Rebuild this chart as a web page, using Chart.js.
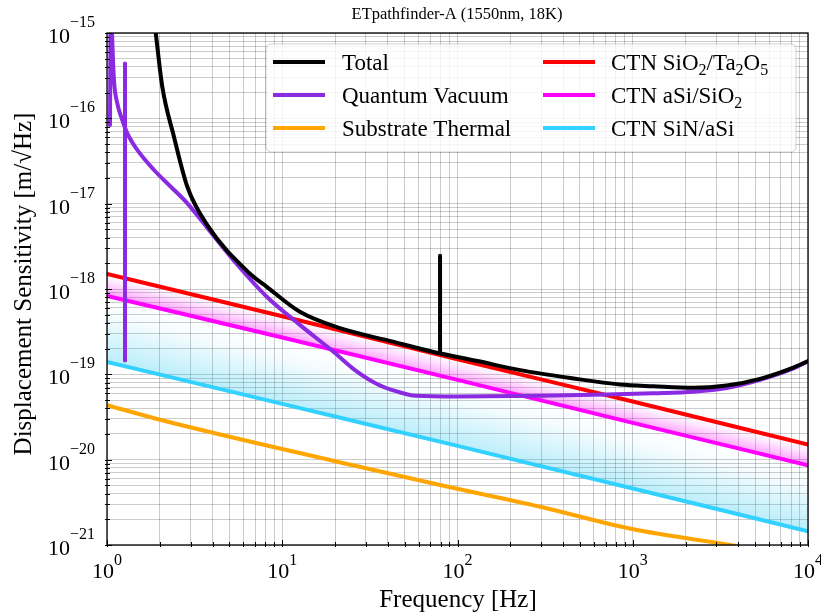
<!DOCTYPE html>
<html>
<head>
<meta charset="utf-8">
<script src="https://cdn.jsdelivr.net/npm/chart.js@4.4.1/dist/chart.umd.min.js"></script>
<style>
  body { margin: 0; background: #fff; }
  #wrap { width: 821px; height: 613px; }
</style>
</head>
<body>
<div id="wrap"><canvas id="myChart" width="821" height="613"></canvas></div>
<script>
const SERIF = "'Liberation Serif', 'Times New Roman', serif";

// Quantum vacuum (violin mode near 1 Hz)
const freqQV = [1.04, 1.052, 1.068, 1.096, 1.145, 1.223, 1.306, 1.489, 1.855, 2.311, 2.873, 3.735, 5.5, 8.16, 12.6, 19.6, 26, 34.7, 45, 58, 100, 300, 710, 1306, 2217, 3436, 5321, 8245, 10000];
const quantumVacuum = [8.35e-17, 3e-15, 1.0e-15, 2.81e-16, 1.5e-16, 9.55e-17, 6.68e-17, 4.26e-17, 2.48e-17, 1.58e-17, 1.01e-17, 5.2e-18, 1.96e-18, 8.1e-19, 3.8e-19, 1.84e-19, 1.12e-19, 7.7e-20, 6.3e-20, 5.6e-20, 5.5e-20, 5.6e-20, 5.8e-20, 6.0e-20, 6.25e-20, 6.9e-20, 8.6e-20, 1.17e-19, 1.42e-19];
// narrow resonance line at 1.267 Hz
const freqQVLine = [1.267, 1.267];
const qvLine = [1.45e-19, 4.4e-16];

// Total
const freqTotal = [1.897, 2.067, 2.41, 2.873, 3.735, 6.5, 8.16, 12.6, 21.3, 40, 72, 130, 228, 450, 846, 1306, 2217, 3436, 5321, 8245, 10000];
const total = [1e-15, 2.35e-16, 6.1e-17, 1.58e-17, 5.6e-18, 1.53e-18, 1.06e-18, 5.4e-19, 3.47e-19, 2.5e-19, 1.84e-19, 1.43e-19, 1.12e-19, 9.0e-20, 7.6e-20, 7.25e-20, 6.95e-20, 7.4e-20, 8.85e-20, 1.2e-19, 1.43e-19];
// line at 79.5 Hz
const freqTotalLine = [79.5, 79.5];
const totalLine = [1.78e-19, 2.45e-18];

// Substrate thermal
const freqSub = [1, 1.93, 20, 79.5, 296, 1007, 3590, 5000];
const substrate = [4.36e-20, 3.0e-20, 9.6e-21, 5.05e-21, 2.81e-21, 1.53e-21, 1.0e-21, 8.8e-22];

// coating thermal noise
const freqCoat = [1, 10, 100, 1000, 10000];
const ctnSiO2Ta2O5 = [1.5e-18, 4.8e-19, 1.5e-19, 4.8e-20, 1.5e-20];
const ctnASiSiO2 = [8.3e-19, 2.7e-19, 8.6e-20, 2.7e-20, 8.6e-21];
const ctnSiNASi = [1.4e-19, 4.5e-20, 1.45e-20, 4.6e-21, 1.45e-21];

const labels = ['Total', 'Quantum Vacuum', 'Substrate Thermal', 'CTN SiO_2/Ta_2O_5', 'CTN aSi/SiO_2', 'CTN SiN/aSi'];
const colors = ['#000000', '#8a2be2', '#ffa500', '#ff0000', '#ff00ff', '#33d1ff'];

const xTickExps = [0, 1, 2, 3, 4];
const yTickExps = [-21, -20, -19, -18, -17, -16, -15];

const pts = (xs, ys) => xs.map((x, i) => ({x: x, y: ys[i]}));

// 1..9 x 10^n ticks for the grid
function decadeTicks(exps) {
  const out = [];
  for (let i = 0; i < exps.length; i++) {
    const b = Math.pow(10, exps[i]);
    out.push({value: b, major: true});
    if (i < exps.length - 1) for (let k = 2; k <= 9; k++) out.push({value: k * b, major: false});
  }
  return out;
}

// gradient across the band between two straight lines
function bandGradient(chart, upper, lower, stops) {
  const {ctx, chartArea, scales} = chart;
  if (!chartArea) return 'rgba(0,0,0,0)';
  const x0 = chartArea.left, x1 = chartArea.right;
  const yU0 = scales.y.getPixelForValue(upper[0]);
  const yU1 = scales.y.getPixelForValue(upper[upper.length - 1]);
  const yL0 = scales.y.getPixelForValue(lower[0]);
  const s = (yU1 - yU0) / (x1 - x0);
  const len = Math.hypot(1, s);
  const d = (yL0 - yU0) / len;
  const g = ctx.createLinearGradient(x0, yU0, x0 - s / len * d, yU0 + d / len);
  stops.forEach(([t, c]) => g.addColorStop(t, c));
  return g;
}

const pinkStops = [[0, 'rgba(255,0,255,0)'], [0.35, 'rgba(255,0,255,0.1)'], [1, 'rgba(255,0,255,0.38)']];
const blueStops = [[0, 'rgba(0,190,240,0)'], [0.3, 'rgba(0,190,240,0.04)'], [1, 'rgba(0,190,240,0.27)']];

// text with _d subscripts
function drawRich(ctx, str, x, y, size) {
  const parts = str.split(/_(\d)/);
  let cx = x;
  parts.forEach((p, i) => {
    if (!p) return;
    const sub = i % 2 === 1;
    ctx.font = (sub ? Math.round(size * 0.7) : size) + 'px ' + SERIF;
    ctx.fillText(p, cx, sub ? y + size * 0.22 : y);
    cx += ctx.measureText(p).width;
  });
}

function drawPow(ctx, exp, x, y, align, bigSize, smallSize, supDy) {
  const expStr = String(exp).replace('-', '\u2212');
  ctx.font = bigSize + 'px ' + SERIF;
  const w10 = ctx.measureText('10').width;
  ctx.font = smallSize + 'px ' + SERIF;
  const wE = ctx.measureText(expStr).width;
  let left = x;
  if (align === 'right') left = x - w10 - wE;
  if (align === 'center') left = x - (w10 + wE) / 2;
  ctx.textAlign = 'left';
  ctx.font = bigSize + 'px ' + SERIF;
  ctx.fillText('10', left, y);
  ctx.font = smallSize + 'px ' + SERIF;
  ctx.fillText(expStr, left + w10, y - supDy);
}

const decor = {
  id: 'decor',
  afterDraw(chart) {
    const {ctx, chartArea: a, scales} = chart;
    ctx.save();
    ctx.fillStyle = '#000';
    ctx.strokeStyle = '#000';
    ctx.textBaseline = 'alphabetic';

    // ticks on left and bottom
    ctx.lineWidth = 1;
    ctx.beginPath();
    scales.x.ticks.forEach(t => {
      const px = Math.round(scales.x.getPixelForValue(t.value)) + 0.5;
      const l = t.major ? 5 : 3;
      ctx.moveTo(px, a.bottom + 2); ctx.lineTo(px, a.bottom - l);
    });
    scales.y.ticks.forEach(t => {
      const py = Math.round(scales.y.getPixelForValue(t.value)) + 0.5;
      const l = t.major ? 5 : 3;
      ctx.moveTo(a.left - 2, py); ctx.lineTo(a.left + l, py);
    });
    ctx.stroke();

    // frame
    ctx.lineWidth = 1.3;
    ctx.strokeRect(a.left, a.top, a.right - a.left, a.bottom - a.top);

    // tick labels
    xTickExps.forEach(e => drawPow(ctx, e, scales.x.getPixelForValue(Math.pow(10, e)), 578, 'center', 22, 16, 13));
    yTickExps.forEach(e => drawPow(ctx, e, 95, scales.y.getPixelForValue(Math.pow(10, e)) + 10, 'right', 22, 16, 16));

    // titles
    ctx.textAlign = 'center';
    ctx.font = '16.5px ' + SERIF;
    ctx.fillText('ETpathfinder-A (1550nm, 18K)', 457, 19);
    ctx.font = '25px ' + SERIF;
    ctx.fillText('Frequency [Hz]', 458, 607);
    ctx.save();
    ctx.translate(31, 284);
    ctx.rotate(-Math.PI / 2);
    ctx.fillText('Displacement Sensitivity [m/\u221AHz]', 0, 0);
    ctx.restore();

    // legend
    const bx = 266, by = 44, bw = 530, bh = 108;
    ctx.beginPath();
    ctx.roundRect(bx, by, bw, bh, 5);
    ctx.fillStyle = 'rgba(255,255,255,0.8)';
    ctx.fill();
    ctx.strokeStyle = 'rgba(0,0,0,0.18)';
    ctx.lineWidth = 1;
    ctx.stroke();
    const cols = [[273, 325, 342], [543, 595, 611]];
    const rows = [62, 95, 128];
    labels.forEach((lab, i) => {
      const c = cols[Math.floor(i / 3)], ry = rows[i % 3];
      ctx.strokeStyle = colors[i];
      ctx.lineWidth = 4;
      ctx.lineCap = 'butt';
      ctx.beginPath();
      ctx.moveTo(c[0], ry); ctx.lineTo(c[1], ry);
      ctx.stroke();
      ctx.fillStyle = '#000';
      ctx.textAlign = 'left';
      drawRich(ctx, lab, c[2], ry + 7.5, 23);
    });
    ctx.restore();
  }
};

const lineStyle = {pointRadius: 0, borderWidth: 4, borderCapStyle: 'round', borderJoinStyle: 'round', cubicInterpolationMode: 'monotone', clip: 0, fill: false};
const spikeStyle = {pointRadius: 0, borderWidth: 4, borderCapStyle: 'round', tension: 0, clip: 0, fill: false};

const setup = () => {
  const ctxt = document.getElementById('myChart').getContext('2d');
  new Chart(ctxt, {
    type: 'line',
    data: {
      datasets: [
        {...lineStyle, label: labels[0], data: pts(freqTotal, total), borderColor: colors[0]},
        {...spikeStyle, label: labels[0] + ' line', data: pts(freqTotalLine, totalLine), borderColor: colors[0]},
        {...lineStyle, label: labels[1], data: pts(freqQV, quantumVacuum), borderColor: colors[1]},
        {...spikeStyle, label: labels[1] + ' line', data: pts(freqQVLine, qvLine), borderColor: colors[1]},
        {...lineStyle, label: labels[2], data: pts(freqSub, substrate), borderColor: colors[2]},
        {...lineStyle, label: labels[3], data: pts(freqCoat, ctnSiO2Ta2O5), borderColor: colors[3]},
        {...lineStyle, label: labels[4], data: pts(freqCoat, ctnASiSiO2), borderColor: colors[4],
          fill: {target: 5}, backgroundColor: (c) => bandGradient(c.chart, ctnSiO2Ta2O5, ctnASiSiO2, pinkStops)},
        {...lineStyle, label: labels[5], data: pts(freqCoat, ctnSiNASi), borderColor: colors[5],
          fill: {target: 6}, backgroundColor: (c) => bandGradient(c.chart, ctnASiSiO2, ctnSiNASi, blueStops)}
      ]
    },
    options: {
      responsive: false,
      animation: false,
      layout: {padding: {left: 107, right: 13, top: 33, bottom: 68}},
      plugins: {legend: {display: false}, title: {display: false}, tooltip: {enabled: false}},
      scales: {
        x: {
          type: 'logarithmic', min: 1, max: 1e4,
          afterBuildTicks: (s) => { s.ticks = decadeTicks(xTickExps); },
          afterFit: (s) => { s.height = 0; },
          ticks: {display: false},
          grid: {color: 'rgba(0,0,0,0.2)', lineWidth: 1, drawTicks: false},
          border: {display: false}
        },
        y: {
          type: 'logarithmic', min: 1e-21, max: 1e-15,
          afterBuildTicks: (s) => { s.ticks = decadeTicks(yTickExps); },
          afterFit: (s) => { s.width = 0; },
          ticks: {display: false},
          grid: {color: 'rgba(0,0,0,0.2)', lineWidth: 1, drawTicks: false},
          border: {display: false}
        }
      }
    },
    plugins: [decor]
  });
};

window.addEventListener('DOMContentLoaded', setup);
</script>
</body>
</html>
